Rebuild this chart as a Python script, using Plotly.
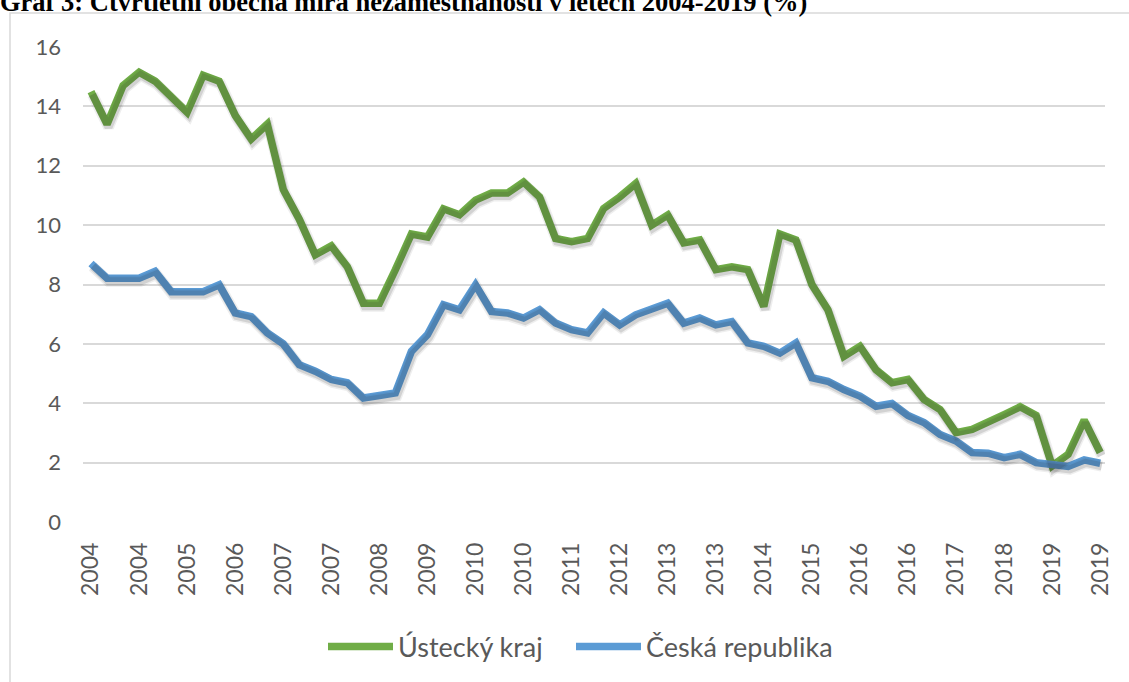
import plotly.graph_objects as go

# ---- data ----
quarters = [f"{y} Q{q}" for y in range(2004, 2020) for q in range(1, 5)]
years = [q.split()[0] for q in quarters]

ustecky = [14.5, 13.4, 14.7, 15.15, 14.85, 14.35, 13.8, 15.05,
           14.85, 13.7, 12.9, 13.4, 11.2, 10.2, 9.0, 9.3,
           8.6, 7.37, 7.37, 8.5, 9.7, 9.6, 10.55, 10.35,
           10.84, 11.08, 11.08, 11.45, 10.95, 9.55, 9.44, 9.55,
           10.56, 10.95, 11.4, 10.0, 10.34, 9.4, 9.5, 8.5,
           8.6, 8.5, 7.26, 9.7, 9.5, 8.0, 7.15, 5.58,
           5.92, 5.13, 4.69, 4.8, 4.13, 3.79, 3.01, 3.12,
           3.40, 3.62, 3.88, 3.59, 1.89, 2.28, 3.43, 2.34]

cr = [8.71, 8.21, 8.21, 8.21, 8.44, 7.76, 7.76, 7.76,
      7.99, 7.04, 6.92, 6.37, 6.0, 5.3, 5.08, 4.8,
      4.69, 4.18, 4.26, 4.35, 5.75, 6.31, 7.32, 7.15,
      7.99, 7.09, 7.04, 6.87, 7.15, 6.70, 6.48, 6.37,
      7.04, 6.64, 6.98, 7.17, 7.37, 6.70, 6.87, 6.64,
      6.75, 6.03, 5.92, 5.69, 6.03, 4.86, 4.74, 4.46,
      4.24, 3.9, 3.99, 3.59, 3.35, 2.95, 2.73, 2.34,
      2.32, 2.17, 2.28, 2.0, 1.95, 1.87, 2.09, 1.98]

series_names = ["Ústecký kraj", "Česká republika"]
series_colors = ["#70AD47", "#5B9BD5"]
y_ticks = [0, 2, 4, 6, 8, 10, 12, 14, 16]
title_text = "Graf 3: Čtvrtletní obecná míra nezaměstnanosti v letech 2004-2019 (%)"

idx = list(range(len(quarters)))
tick_idx = idx[::3]
tick_text = [years[i] for i in tick_idx]

W, H = 1129, 682
L, R, T, B = 83, 24, 47, 159
pw, ph = W - L - R, H - T - B
xr = [-0.5, 63.3]
yr = [0, 16]

fig = go.Figure()

# soft shadow traces (slightly offset via overlay axes)
dx_px, dy_px = 1.5, 3.0
ux = (xr[1] - xr[0]) / pw
uy = (yr[1] - yr[0]) / ph
for vals in (ustecky, cr):
    for w, a in ((11, 0.08), (8, 0.14)):
        fig.add_trace(go.Scatter(x=idx, y=vals, mode="lines", xaxis="x2", yaxis="y2",
                                 line=dict(color=f"rgba(40,40,40,{a})", width=w),
                                 hoverinfo="skip", showlegend=False))

legend_ids = ["legend", "legend2"]
legend_left_px = [323, 571]
for vals, name, col, lg in zip((ustecky, cr), series_names, series_colors, legend_ids):
    fig.add_trace(go.Scatter(x=idx, y=vals, mode="lines", name=name, legend=lg,
                             line=dict(color=col, width=7.5)))

legend_style = dict(orientation="h", xanchor="left", yanchor="middle",
                    y=(H - B - 647) / ph,
                    font=dict(size=27, color="#595959"), itemwidth=65,
                    bgcolor="rgba(0,0,0,0)")

fig.update_layout(
    width=W, height=H,
    margin=dict(l=L, r=R, t=T, b=B, pad=0),
    paper_bgcolor="white", plot_bgcolor="white",
    font=dict(family="Lato, Open Sans, sans-serif", color="#595959"),
    title=dict(text=f"<b>{title_text}</b>", x=0.0, xref="container", xanchor="left",
               y=1 - 2 / H, yref="container", yanchor="middle",
               font=dict(family="Liberation Serif, Times New Roman, serif", size=26.5, color="black"),
               pad=dict(l=0, r=0, t=0, b=0)),
    xaxis=dict(range=xr, tickvals=tick_idx, ticktext=tick_text, tickangle=-90,
               showgrid=False, zeroline=False, showline=False, ticks="",
               ticklabelstandoff=15, tickfont=dict(size=23, color="#595959")),
    yaxis=dict(range=yr, tickvals=y_ticks, showgrid=True, gridcolor="#D9D9D9", gridwidth=2,
               zeroline=False, showline=False, ticks="", ticklabelstandoff=21,
               tickfont=dict(size=22, color="#595959")),
    xaxis2=dict(range=[xr[0] - dx_px * ux, xr[1] - dx_px * ux], overlaying="x", visible=False),
    yaxis2=dict(range=[yr[0] + dy_px * uy, yr[1] + dy_px * uy], overlaying="y", visible=False),
    legend=dict(x=(legend_left_px[0] - L) / pw, **legend_style),
    legend2=dict(x=(legend_left_px[1] - L) / pw, **legend_style),
    showlegend=True,
)

# chart frame border
fig.add_shape(type="rect", xref="paper", yref="paper",
              x0=(10 - L) / pw, x1=(W + 20 - L) / pw,
              y0=(H - B - (H + 20)) / ph, y1=(H - B - 13) / ph,
              line=dict(color="#D9D9D9", width=1.5), fillcolor="rgba(0,0,0,0)", layer="below")

fig.write_html("out.html", config={"displayModeBar": False},
               post_script="document.body.style.margin='0';")
